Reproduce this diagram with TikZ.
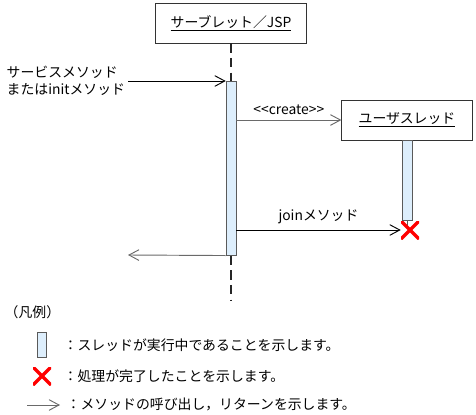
\documentclass[tikz,border=0pt]{standalone}
\usepackage{fontspec}
\setmainfont{Noto Sans CJK JP}
\usetikzlibrary{arrows.meta,positioning,calc}
\definecolor{actfill}{HTML}{DDEEFC}
\definecolor{actline}{HTML}{5A5A5A}
\definecolor{msggray}{HTML}{6A6A6A}
\tikzset{lbl/.style={font=\fontsize{10.4}{13}\selectfont},obj/.style={draw=black!80,fill=white,minimum height=30pt,lbl},act/.style={draw=actline,fill=actfill,minimum width=7.5pt,inner sep=0pt},life/.style={draw=black!85,line width=0.9pt,dash pattern=on 7pt off 4pt},msg/.style={-{Straight Barb[length=7.5pt,width=8pt]},line width=0.7pt,draw=black},kill/.style={minimum size=13.5pt,inner sep=0pt,path picture={\draw[red,line width=2.6pt] (path picture bounding box.north west)--(path picture bounding box.south east) (path picture bounding box.north east)--(path picture bounding box.south west);}}}

\begin{document}
\begin{tikzpicture}[x=0.75pt,y=-0.75pt]
\useasboundingbox (0,0) rectangle (476,415);
% objects and lifelines
\node[obj,minimum width=113pt] (servlet) at (231,23) {\underline{サーブレット／JSP}};
\node[act,minimum height=130.5pt,anchor=north] (bar1) at (231,81) {};
\coordinate (lifeend) at (231,301);
\draw[life] (servlet) -- (bar1);
\draw[life] (bar1) -- (lifeend);
\node[obj,minimum width=98pt] (user) at (407,120) {\underline{ユーザスレッド}};
\node[act,minimum height=60pt,below=0pt of user] (bar2) {};
\draw[actline] (bar2.south) -- ++(0,8);
\node[kill] (end) at (410,230) {};
% messages
\coordinate (caller) at (128,81);
\coordinate (back) at (128,255);
\node[lbl,anchor=west,align=left] (svc) at (2,81) {サービスメソッド\\またはinitメソッド};
\draw[msg] (caller) -- (bar1.north west);
\draw[msg,draw=msggray] (bar1.east |- user.west) -- node[lbl,above] (createlbl) {<{}<create>{}>} (user.west);
\draw[msg] (bar1.east |- end) -- node[lbl,above=1pt] (joinlbl) {joinメソッド} (end.west);
\draw[msg,draw=msggray] (bar1.south west) -- (back);
% legend
\node[lbl,anchor=west] (legend) at (0,312) {（凡例）};
\node[act,minimum width=6.75pt,minimum height=18.75pt] (keybar) at (41.5,344.5) {};
\node[lbl,anchor=west] (keybartxt) at (59,345) {：スレッドが実行中であることを示します。};
\node[kill] (keyend) at (42,376) {};
\node[lbl,anchor=west] (keyendtxt) at (59,376) {：処理が完了したことを示します。};
\coordinate (keyfrom) at (27,405);
\coordinate (keyto) at (60,405);
\draw[msg,draw=msggray] (keyfrom) -- (keyto);
\node[lbl,anchor=west] (keymsgtxt) at (62,404) {：メソッドの呼び出し，リターンを示します。};
\end{tikzpicture}
\end{document}
